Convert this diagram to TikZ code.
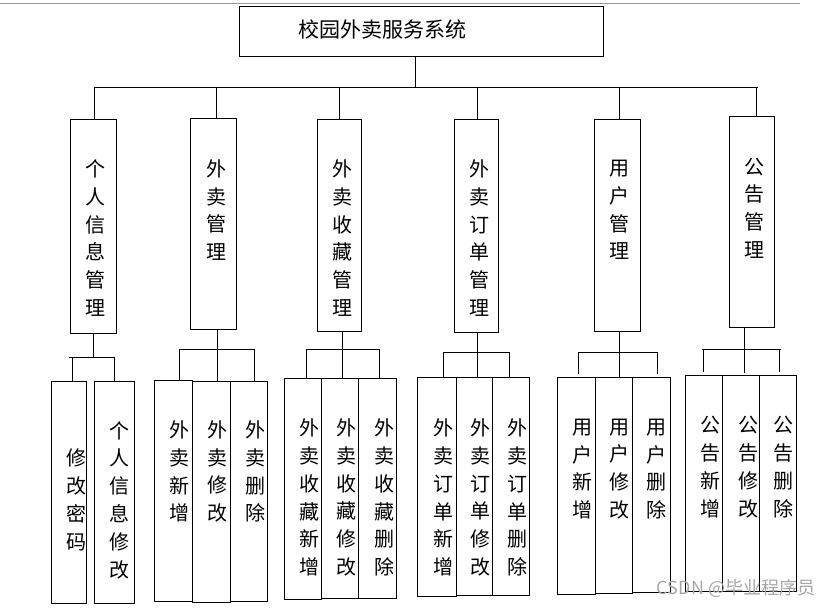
\documentclass[tikz,border=0pt]{standalone}
\usepackage{fontspec}
\setmainfont{Noto Sans CJK SC}
\begin{document}
\begin{tikzpicture}[x=1bp,y=-1bp,
  bx/.style={draw,line width=0.9bp,inner sep=0pt,rectangle},
  ln/.style={line width=0.9bp},
  vt/.style={inner sep=0pt,align=center,font=\fontsize{20bp}{27.8bp}\selectfont},
  tt/.style={inner sep=0pt,font=\fontsize{21bp}{24bp}\selectfont}]
\useasboundingbox (0,0) rectangle (838,608);
\draw[gray!80,line width=1bp] (0,4) -- (800,4);
% root
\node[bx,minimum width=364bp,minimum height=50bp] (root) at (421,31) {};
\node[tt] (roott) at (382,29) {校园外卖服务系统};
% level 1 boxes
\node[bx,minimum width=46bp,minimum height=214bp] (A) at (93,226) {};
\node[bx,minimum width=46bp,minimum height=211bp] (B) at (213,223.5) {};
\node[bx,minimum width=44bp,minimum height=212bp] (C) at (339,225) {};
\node[bx,minimum width=44bp,minimum height=213bp] (D) at (476,225.5) {};
\node[bx,minimum width=46bp,minimum height=212bp] (E) at (617,225) {};
\node[bx,minimum width=45bp,minimum height=211bp] (F) at (751.5,221.5) {};
\node[vt] (At) at (95,238) {个\\人\\信\\息\\管\\理};
\node[vt] (Bt) at (216,210) {外\\卖\\管\\理};
\node[vt] (Ct) at (342,238) {外\\卖\\收\\藏\\管\\理};
\node[vt] (Dt) at (479,238) {外\\卖\\订\\单\\管\\理};
\node[vt] (Et) at (619,210) {用\\户\\管\\理};
\node[vt] (Ft) at (754,208) {公\\告\\管\\理};
% top bus
\coordinate (rs) at (415,87);
\coordinate (busL) at (94,87);
\coordinate (busR) at (758,87);
\draw[ln] (root.south -| rs) -- (rs);
\draw[ln] (busL) -- (busR);
\foreach \n/\x in {A/94,B/216,C/339,D/477,E/619,F/756}{
  \coordinate (s\n) at (\x,87);
  \draw[ln] (s\n) -- (s\n |- \n.north);
}
% level 2 boxes
\node[bx,minimum width=35bp,minimum height=222bp] (A1) at (68.5,492) {};
\node[bx,minimum width=40bp,minimum height=222bp] (A2) at (114,492) {};
\node[vt] at (76,500) {修\\改\\密\\码};
\node[vt] at (119,500) {个\\人\\信\\息\\修\\改};

\node[bx,minimum width=38bp,minimum height=221bp] (B1) at (173,490.5) {};
\node[bx,minimum width=38bp,minimum height=221bp] (B2) at (211,491.5) {};
\node[bx,minimum width=37bp,minimum height=220bp] (B3) at (248.5,491) {};
\node[vt] at (179,471.5) {外\\卖\\新\\增};
\node[vt] at (217,471.5) {外\\卖\\修\\改};
\node[vt] at (255,471.5) {外\\卖\\删\\除};

\node[bx,minimum width=37bp,minimum height=221bp] (C1) at (302.5,488.5) {};
\node[bx,minimum width=37bp,minimum height=220bp] (C2) at (339.5,488) {};
\node[bx,minimum width=38bp,minimum height=220bp] (C3) at (377,488) {};
\node[vt] at (309,497.5) {外\\卖\\收\\藏\\新\\增};
\node[vt] at (346,497.5) {外\\卖\\收\\藏\\修\\改};
\node[vt] at (384,497.5) {外\\卖\\收\\藏\\删\\除};

\node[bx,minimum width=39bp,minimum height=219bp] (D1) at (436.5,486.5) {};
\node[bx,minimum width=36bp,minimum height=218bp] (D2) at (474,486) {};
\node[bx,minimum width=37bp,minimum height=218bp] (D3) at (510.5,486) {};
\node[vt] at (443,497.5) {外\\卖\\订\\单\\新\\增};
\node[vt] at (480,497.5) {外\\卖\\订\\单\\修\\改};
\node[vt] at (517,497.5) {外\\卖\\订\\单\\删\\除};

\node[bx,minimum width=38bp,minimum height=217bp] (E1) at (576,485.5) {};
\node[bx,minimum width=37bp,minimum height=216bp] (E2) at (613.5,485) {};
\node[bx,minimum width=38bp,minimum height=215bp] (E3) at (651,484.5) {};
\node[vt] at (582,469) {用\\户\\新\\增};
\node[vt] at (619,469) {用\\户\\修\\改};
\node[vt] at (656,469) {用\\户\\删\\除};

\node[bx,minimum width=37bp,minimum height=216bp] (F1) at (703.5,483) {};
\node[bx,minimum width=37bp,minimum height=216bp] (F2) at (740.5,483) {};
\node[bx,minimum width=37bp,minimum height=216bp] (F3) at (777.5,483) {};
\node[vt] at (710,467) {公\\告\\新\\增};
\node[vt] at (748,467) {公\\告\\修\\改};
\node[vt] at (783,467) {公\\告\\删\\除};

% group connectors
% G1
\coordinate (gA) at (93,357);
\coordinate (gAl) at (69,357);
\coordinate (gAr) at (114,357);
\draw[ln] (A.south -| gA) -- (gA);
\draw[ln] (gAl) -- (gAr);
\coordinate (dA1) at (72,357);
\draw[ln] (dA1) -- (dA1 |- A1.north);
\draw[ln] (gAr) -- (gAr |- A2.north);
% G2
\coordinate (gB) at (217,349);
\coordinate (gBl) at (179,349);
\coordinate (gBr) at (254,349);
\draw[ln] (B.south -| gB) -- (gB);
\draw[ln] (gBl) -- (gBr);
\draw[ln] (gBl) -- (gBl |- B1.north);
\draw[ln] (gB) -- (gB |- B2.north);
\draw[ln] (gBr) -- (gBr |- B3.north);
% G3
\coordinate (gC) at (342,349);
\coordinate (gCl) at (306,349);
\coordinate (gCr) at (379,349);
\draw[ln] (C.south -| gC) -- (gC);
\draw[ln] (gCl) -- (gCr);
\draw[ln] (gCl) -- (gCl |- C1.north);
\draw[ln] (gC) -- (gC |- C2.north);
\draw[ln] (gCr) -- (gCr |- C3.north);
% G4
\coordinate (gD) at (477,352);
\coordinate (gDl) at (443,352);
\coordinate (gDr) at (509,352);
\draw[ln] (D.south -| gD) -- (gD);
\draw[ln] (gDl) -- (gDr);
\draw[ln] (gDl) -- (gDl |- D1.north);
\draw[ln] (gD) -- (gD |- D2.north);
\draw[ln] (gDr) -- (gDr |- D3.north);
% G5
\coordinate (gE) at (619,352);
\coordinate (gEl) at (578,352);
\coordinate (gEr) at (657,352);
\draw[ln] (E.south -| gE) -- (gE);
\draw[ln] (gEl) -- (gEr);
\draw[ln] (gEl) -- (578,374);
\draw[ln] (gE) -- (gE |- E2.north);
\draw[ln] (gEr) -- (657,374);
% G6
\coordinate (gF) at (744,349);
\coordinate (gFl) at (702,349);
\coordinate (gFr) at (781,349);
\draw[ln] (F.south -| gF) -- (744,373);
\draw[ln] (gFl) -- (gFr);
\draw[ln] (703,349) -- (703,372);
\draw[ln] (779,349) -- (779,372);
% watermark
\node[inner sep=0pt,text=gray!70,font=\fontsize{18bp}{20bp}\selectfont] (wm) at (736,588) {CSDN @毕业程序员};
\end{tikzpicture}
\end{document}
